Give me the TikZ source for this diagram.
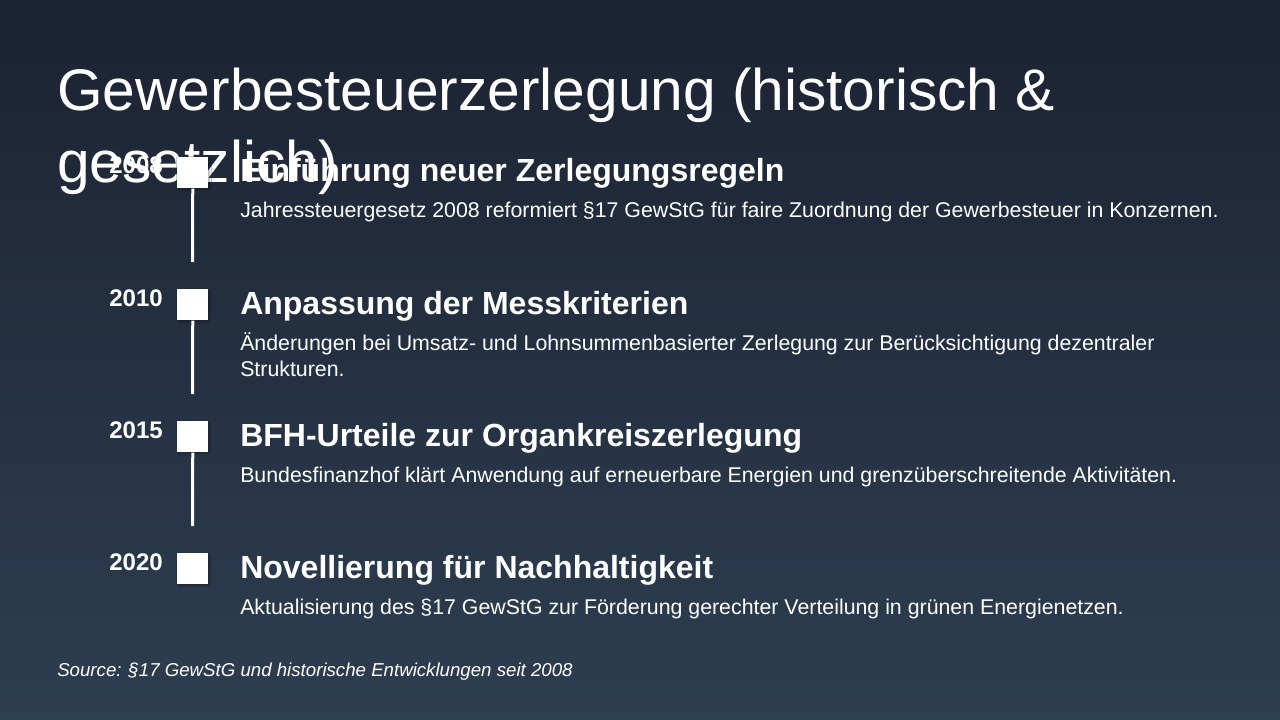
\documentclass[tikz,border=0pt]{standalone}
\usepackage{fontspec}
\setmainfont{Liberation Sans}
\usetikzlibrary{shadows.blur}
\definecolor{bgtop}{HTML}{1C2333}
\definecolor{bgbot}{HTML}{2D3E50}
\begin{document}
\begin{tikzpicture}[x=0.75pt,y=-0.75pt,
  every node/.style={text=white, inner sep=0pt},
  titletext/.style={anchor=base west, font=\fontsize{44}{53}\selectfont},
  yeartext/.style={anchor=base east, font=\fontsize{18}{22}\selectfont\bfseries},
  headtext/.style={anchor=base west, font=\fontsize{24}{29}\selectfont\bfseries},
  desctext/.style={anchor=base west, font=\fontsize{16}{20}\selectfont},
  srctext/.style={anchor=base west, font=\fontsize{14}{18}\selectfont\itshape},
  marker/.style={fill=white, minimum width=23.25pt, minimum height=23.25pt, anchor=north west,
     blur shadow={shadow xshift=0.8pt, shadow yshift=-0.8pt, shadow blur steps=4, shadow opacity=35, shadow blur radius=1.5pt}},
  stem/.style={draw=white, line width=2.25pt}
]
\fill[top color=bgtop, bottom color=bgbot] (0,0) rectangle (1280,720);
\useasboundingbox (0,0) rectangle (1280,720);

% title
\node[titletext] (t1) at (57,111) {Gewerbesteuerzerlegung (historisch \&};
\node[titletext] (t2) at (57,183) {gesetzlich)};

% markers
\node[marker] (s1) at (177,157) {};
\node[marker] (s2) at (177,289) {};
\node[marker] (s3) at (177,421) {};
\node[marker] (s4) at (177,553) {};

\coordinate (e1) at (192.5,262);
\coordinate (e2) at (192.5,394);
\coordinate (e3) at (192.5,526);
\draw[stem] (s1.south) -- (e1);
\draw[stem] (s2.south) -- (e2);
\draw[stem] (s3.south) -- (e3);

% years
\node[yeartext] (y1) at (163,174) {2008};
\node[yeartext] (y2) at (163,306) {2010};
\node[yeartext] (y3) at (163,438) {2015};
\node[yeartext] (y4) at (163,570) {2020};

% headings
\node[headtext] (h1) at (240,182) {Einführung neuer Zerlegungsregeln};
\node[headtext] (h2) at (240,314) {Anpassung der Messkriterien};
\node[headtext] (h3) at (240,446) {BFH-Urteile zur Organkreiszerlegung};
\node[headtext] (h4) at (240,578) {Novellierung für Nachhaltigkeit};

% descriptions
\node[desctext] (d1) at (240,218) {Jahressteuergesetz 2008 reformiert §17 GewStG für faire Zuordnung der Gewerbesteuer in Konzernen.};
\node[desctext] (d2a) at (240,350) {Änderungen bei Umsatz- und Lohnsummenbasierter Zerlegung zur Berücksichtigung dezentraler};
\node[desctext] (d2b) at (240,376) {Strukturen.};
\node[desctext] (d3) at (240,482) {Bundesfinanzhof klärt Anwendung auf erneuerbare Energien und grenzüberschreitende Aktivitäten.};
\node[desctext] (d4) at (240,614) {Aktualisierung des §17 GewStG zur Förderung gerechter Verteilung in grünen Energienetzen.};

% source
\node[srctext] (src) at (57,676) {Source: §17 GewStG und historische Entwicklungen seit 2008};
\end{tikzpicture}
\end{document}
